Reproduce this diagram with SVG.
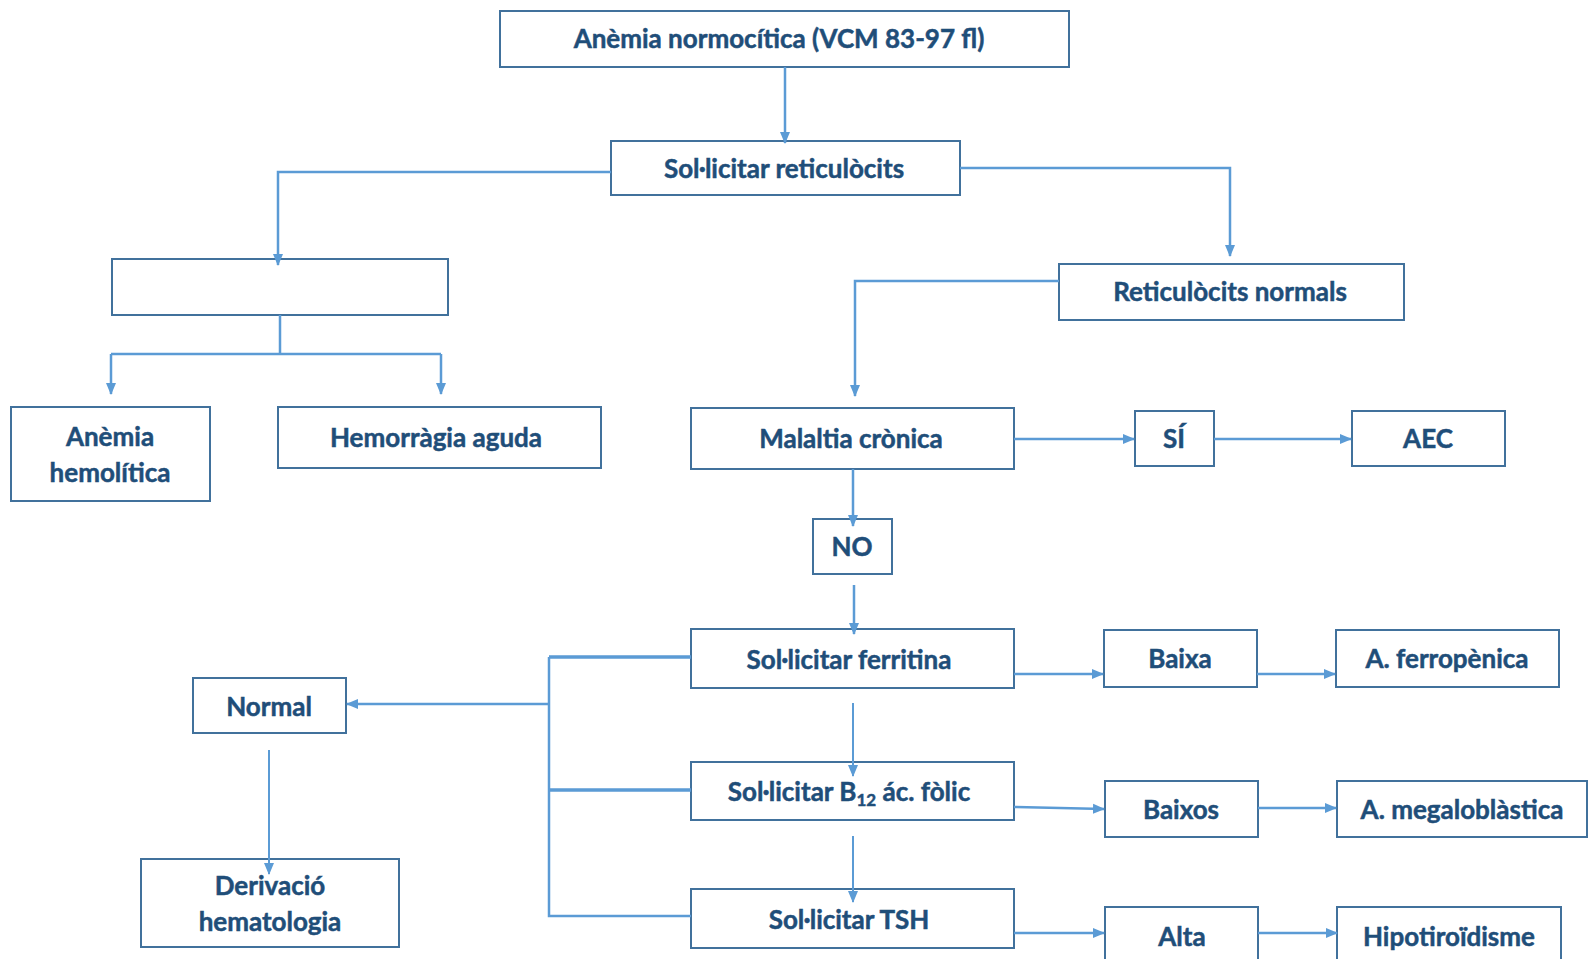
<svg xmlns="http://www.w3.org/2000/svg" width="1588" height="959" viewBox="0 0 1588 959">
<style>
.box{fill:#fff;stroke:#41719C;stroke-width:2}
.t{font-family:Lato,"Liberation Sans",sans-serif;font-weight:bold;font-size:26px;fill:#1F4E79;stroke:#1F4E79;stroke-width:0.5;text-anchor:middle}
.c{fill:none;stroke:#5B9BD5;stroke-width:2.5}
.th{stroke-width:3.5}
.tn{stroke-width:2}
</style>
<defs>
<marker id="a" markerUnits="userSpaceOnUse" markerWidth="12" markerHeight="12" viewBox="0 0 12 12" refX="11" refY="6" orient="auto">
<path d="M0,1 L12,6 L0,11 Z" fill="#5B9BD5"/>
</marker>
</defs>
<rect width="1588" height="959" fill="#fff"/>
<g id="n1"><rect class="box" x="500" y="11" width="569" height="56"/><text class="t" x="779" y="48">Anèmia normocítica (VCM 83-97 fl)</text></g>
<g id="n2"><rect class="box" x="611" y="141" width="349" height="54"/><text class="t" x="784" y="178">Sol·licitar reticulòcits</text></g>
<g id="n3"><rect class="box" x="112" y="259" width="336" height="56"/></g>
<g id="n4"><rect class="box" x="11" y="407" width="199" height="94"/><text class="t" x="110" y="446">Anèmia</text><text class="t" x="110" y="482">hemolítica</text></g>
<g id="n5"><rect class="box" x="278" y="407" width="323" height="61"/><text class="t" x="436" y="447">Hemorràgia aguda</text></g>
<g id="n6"><rect class="box" x="1059" y="264" width="345" height="56"/><text class="t" x="1230" y="301">Reticulòcits normals</text></g>
<g id="n7"><rect class="box" x="691" y="408" width="323" height="61"/><text class="t" x="851" y="448">Malaltia crònica</text></g>
<g id="n8"><rect class="box" x="1135" y="411" width="79" height="55"/><text class="t" x="1174" y="448">SÍ</text></g>
<g id="n9"><rect class="box" x="1352" y="411" width="153" height="55"/><text class="t" x="1428" y="448">AEC</text></g>
<g id="n10"><rect class="box" x="813" y="519" width="79" height="55"/><text class="t" x="852" y="556">NO</text></g>
<g id="n11"><rect class="box" x="691" y="629" width="323" height="59"/><text class="t" x="849" y="669">Sol·licitar ferritina</text></g>
<g id="n12"><rect class="box" x="1104" y="630" width="153" height="57"/><text class="t" x="1180" y="668">Baixa</text></g>
<g id="n13"><rect class="box" x="1336" y="630" width="223" height="57"/><text class="t" x="1447" y="668">A. ferropènica</text></g>
<g id="n14"><rect class="box" x="691" y="762" width="323" height="58"/><text class="t" x="849" y="801">Sol·licitar B<tspan font-size="17" dy="5">12</tspan><tspan dy="-5"> ác. fòlic</tspan></text></g>
<g id="n15"><rect class="box" x="1105" y="781" width="153" height="56"/><text class="t" x="1181" y="819">Baixos</text></g>
<g id="n16"><rect class="box" x="1337" y="781" width="250" height="56"/><text class="t" x="1462" y="819">A. megaloblàstica</text></g>
<g id="n17"><rect class="box" x="691" y="889" width="323" height="59"/><text class="t" x="849" y="929">Sol·licitar TSH</text></g>
<g id="n18"><rect class="box" x="1105" y="907" width="153" height="60"/><text class="t" x="1182" y="946">Alta</text></g>
<g id="n19"><rect class="box" x="1337" y="907" width="224" height="60"/><text class="t" x="1449" y="946">Hipotiroïdisme</text></g>
<g id="n20"><rect class="box" x="193" y="678" width="153" height="55"/><text class="t" x="269" y="716">Normal</text></g>
<g id="n21"><rect class="box" x="141" y="859" width="258" height="88"/><text class="t" x="270" y="895">Derivació</text><text class="t" x="270" y="931">hematologia</text></g>
<g id="connectors">
<path class="c" d="M785,67 V143" marker-end="url(#a)"/>
<path class="c" d="M611,172 H278 V265" marker-end="url(#a)"/>
<path class="c" d="M280,315 V354 M111,354 H441 M111,354 V380 M441,354 V380"/>
<path class="c" d="M111,380 V394" marker-end="url(#a)"/>
<path class="c" d="M441,380 V394" marker-end="url(#a)"/>
<path class="c" d="M960,168 H1230 V256" marker-end="url(#a)"/>
<path class="c" d="M1059,281 H855 V396" marker-end="url(#a)"/>
<path class="c" d="M1014,439 H1134" marker-end="url(#a)"/>
<path class="c" d="M1214,439 H1351" marker-end="url(#a)"/>
<path class="c" d="M853,469 V526" marker-end="url(#a)"/>
<path class="c" d="M854,585 V634" marker-end="url(#a)"/>
<path class="c" d="M1014,674 H1103" marker-end="url(#a)"/>
<path class="c" d="M1257,674 H1335" marker-end="url(#a)"/>
<path class="c tn" d="M853,703 V776" marker-end="url(#a)"/>
<path class="c" d="M1014,807 L1104,809" marker-end="url(#a)"/>
<path class="c" d="M1258,808 H1336" marker-end="url(#a)"/>
<path class="c tn" d="M853,836 V902" marker-end="url(#a)"/>
<path class="c" d="M1014,933 H1104" marker-end="url(#a)"/>
<path class="c" d="M1258,933 H1337" marker-end="url(#a)"/>
<path class="c" d="M691,916 H549 V657"/>
<path class="c th" d="M549,657 H691 M549,790 H691"/>
<path class="c" d="M549,704 H347" marker-end="url(#a)"/>
<path class="c tn" d="M269,750 V874" marker-end="url(#a)"/>
</g>
</svg>
